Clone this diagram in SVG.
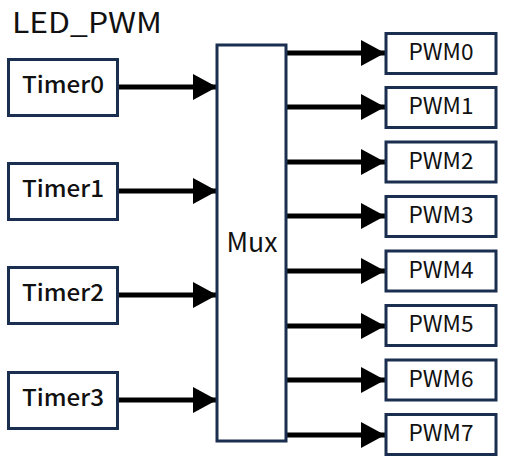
<svg xmlns="http://www.w3.org/2000/svg" width="506" height="464" viewBox="0 0 506 464">
<defs>
<style>
.box{fill:#fff;stroke:#1a2e50;stroke-width:3}
.edge{stroke:#000;stroke-width:5;fill:none}
.tl{font-family:"Noto Sans CJK JP","Noto Sans",sans-serif;font-size:23px;font-weight:500;fill:#111;text-anchor:middle}
.pl{font-family:"Noto Sans CJK JP","Noto Sans",sans-serif;font-size:22.5px;fill:#111;text-anchor:middle}
</style>
<marker id="ah" markerWidth="24" markerHeight="26" refX="24" refY="13" orient="auto" markerUnits="userSpaceOnUse">
<path d="M0,0 L24,13 L0,26 Z" fill="#000"/>
</marker>
</defs>
<rect width="506" height="464" fill="#fff"/>
<text x="12" y="33" font-family="Noto Sans CJK JP, Noto Sans, sans-serif" font-size="28" fill="#111" textLength="150" lengthAdjust="spacingAndGlyphs">LED_PWM</text>
<g id="connectors">
<line class="edge" x1="118" y1="87" x2="217" y2="87" marker-end="url(#ah)"/>
<line class="edge" x1="118" y1="191" x2="217" y2="191" marker-end="url(#ah)"/>
<line class="edge" x1="118" y1="295" x2="217" y2="295" marker-end="url(#ah)"/>
<line class="edge" x1="118" y1="400" x2="217" y2="400" marker-end="url(#ah)"/>
<line class="edge" x1="286" y1="53" x2="385" y2="53" marker-end="url(#ah)"/>
<line class="edge" x1="286" y1="107" x2="385" y2="107" marker-end="url(#ah)"/>
<line class="edge" x1="286" y1="162" x2="385" y2="162" marker-end="url(#ah)"/>
<line class="edge" x1="286" y1="216" x2="385" y2="216" marker-end="url(#ah)"/>
<line class="edge" x1="286" y1="271" x2="385" y2="271" marker-end="url(#ah)"/>
<line class="edge" x1="286" y1="326" x2="385" y2="326" marker-end="url(#ah)"/>
<line class="edge" x1="286" y1="380" x2="385" y2="380" marker-end="url(#ah)"/>
<line class="edge" x1="286" y1="435" x2="385" y2="435" marker-end="url(#ah)"/>
</g>
<g id="mux"><rect class="box" x="217" y="45" width="69" height="396"/><text x="252" y="252" font-family="Noto Sans CJK JP, Noto Sans, sans-serif" font-size="27" fill="#111" text-anchor="middle" textLength="51" lengthAdjust="spacingAndGlyphs">Mux</text></g>
<g id="timer0"><rect class="box" x="8.5" y="59.5" width="109" height="56"/><text class="tl" x="63" y="92.5" textLength="82" lengthAdjust="spacingAndGlyphs">Timer0</text></g>
<g id="timer1"><rect class="box" x="8.5" y="163.5" width="109" height="56"/><text class="tl" x="63" y="196.5" textLength="82" lengthAdjust="spacingAndGlyphs">Timer1</text></g>
<g id="timer2"><rect class="box" x="8.5" y="267.5" width="109" height="56"/><text class="tl" x="63" y="300.5" textLength="82" lengthAdjust="spacingAndGlyphs">Timer2</text></g>
<g id="timer3"><rect class="box" x="8.5" y="372.5" width="109" height="56"/><text class="tl" x="63" y="405.5" textLength="82" lengthAdjust="spacingAndGlyphs">Timer3</text></g>
<g id="pwm0"><rect class="box" x="386" y="33.5" width="110" height="40"/><text class="pl" x="441" y="60" textLength="65" lengthAdjust="spacingAndGlyphs">PWM0</text></g>
<g id="pwm1"><rect class="box" x="386" y="87.5" width="110" height="40"/><text class="pl" x="441" y="114" textLength="65" lengthAdjust="spacingAndGlyphs">PWM1</text></g>
<g id="pwm2"><rect class="box" x="386" y="142" width="110" height="40"/><text class="pl" x="441" y="169" textLength="65" lengthAdjust="spacingAndGlyphs">PWM2</text></g>
<g id="pwm3"><rect class="box" x="386" y="196.5" width="110" height="40"/><text class="pl" x="441" y="223" textLength="65" lengthAdjust="spacingAndGlyphs">PWM3</text></g>
<g id="pwm4"><rect class="box" x="386" y="251" width="110" height="40"/><text class="pl" x="441" y="278" textLength="65" lengthAdjust="spacingAndGlyphs">PWM4</text></g>
<g id="pwm5"><rect class="box" x="386" y="305.5" width="110" height="40"/><text class="pl" x="441" y="332" textLength="65" lengthAdjust="spacingAndGlyphs">PWM5</text></g>
<g id="pwm6"><rect class="box" x="386" y="360" width="110" height="40"/><text class="pl" x="441" y="387" textLength="65" lengthAdjust="spacingAndGlyphs">PWM6</text></g>
<g id="pwm7"><rect class="box" x="386" y="414.5" width="110" height="40"/><text class="pl" x="441" y="441" textLength="65" lengthAdjust="spacingAndGlyphs">PWM7</text></g>
</svg>
